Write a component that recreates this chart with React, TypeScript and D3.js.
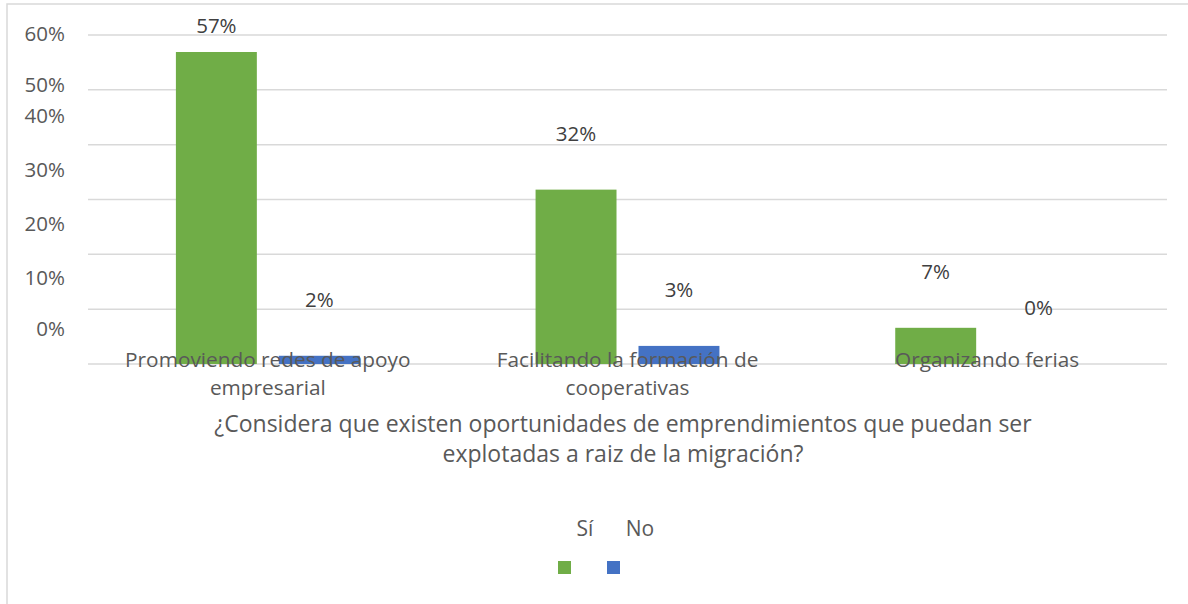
import React from "react";
import * as d3 from "d3";

const categories = [
  ["Promoviendo redes de apoyo", "empresarial"],
  ["Facilitando la formación de", "cooperativas"],
  ["Organizando ferias"],
];
const seriesNames = ["Sí", "No"];
const siValues = [0.569, 0.318, 0.066];
const noValues = [0.015, 0.033, 0.0];
const tickValues = [0, 0.1, 0.2, 0.3, 0.4, 0.5, 0.6];
const titleLines = [
  "¿Considera que existen oportunidades de emprendimientos que puedan ser",
  "explotadas a raiz de la migración?",
];

const colors = ["#70AD47", "#4472C4"];
// vertical offsets of the tick labels relative to their gridline (as in the original rendering)
const tickDy = [-36, -32, -31, -31, -30, -6, -2];

const W = 1188;
const H = 604;
const FONT = "'Open Sans', 'Liberation Sans', sans-serif";

export default function App() {
  const catKeys = categories.map((c) => c.join(" "));
  const x0 = d3.scaleBand<string>().domain(catKeys).range([88, 1167]).padding(0);
  const x1 = d3
    .scaleBand<string>()
    .domain(seriesNames)
    .range([0, x0.bandwidth()])
    .paddingInner(0.2136)
    .paddingOuter(0.854);
  const y = d3.scaleLinear().domain([0, 0.6]).range([364, 35]);
  const fmt = d3.format(".0%");
  const series = [siValues, noValues];

  return (
    <svg
      width={W}
      height={H}
      style={{ position: "absolute", left: 0, top: 0, background: "#fff" }}
      fontFamily={FONT}
    >
      <rect x={7} y={4} width={W + 20} height={H + 20} fill="#fff" stroke="#D9D9D9" strokeWidth={1.5} />
      {tickValues.map((t) => (
        <line key={"g" + t} x1={88} x2={1167} y1={y(t)} y2={y(t)} stroke="#D9D9D9" strokeWidth={1.5} />
      ))}
      {tickValues.map((t, i) => (
        <text
          key={"t" + t}
          x={65}
          y={y(t) + tickDy[i]}
          textAnchor="end"
          dominantBaseline="central"
          fontSize={20.5}
          fill="#595959"
        >
          {fmt(t)}
        </text>
      ))}
      {series.map((vals, si) =>
        vals.map((v, ci) => (
          <rect
            key={"b" + si + ci}
            x={(x0(catKeys[ci]) as number) + (x1(seriesNames[si]) as number)}
            y={y(v)}
            width={x1.bandwidth()}
            height={y(0) - y(v)}
            fill={colors[si]}
          />
        ))
      )}
      {series.map((vals, si) =>
        vals.map((v, ci) => (
          <text
            key={"l" + si + ci}
            x={(x0(catKeys[ci]) as number) + (x1(seriesNames[si]) as number) + x1.bandwidth() / 2}
            y={Math.max(y(v) - 57, 25)}
            textAnchor="middle"
            dominantBaseline="central"
            fontSize={20.5}
            fill="#404040"
          >
            {fmt(Math.round(v * 100) / 100)}
          </text>
        ))
      )}
      {categories.map((lines, ci) =>
        lines.map((ln, li) => (
          <text
            key={"c" + ci + li}
            x={(x0(catKeys[ci]) as number) + x0.bandwidth() / 2}
            y={367 + li * 28}
            textAnchor="middle"
            fontSize={20.8}
            fill="#595959"
          >
            {ln}
          </text>
        ))
      )}
      {titleLines.map((ln, i) => (
        <text key={"ti" + i} x={623} y={432 + i * 30} textAnchor="middle" fontSize={23} fill="#595959">
          {ln}
        </text>
      ))}
      {seriesNames.map((s, i) => (
        <g key={"lg" + s}>
          <text x={585 + i * 55} y={528} textAnchor="middle" dominantBaseline="central" fontSize={21} fill="#595959">
            {s}
          </text>
          <rect x={558 + i * 49} y={561} width={13} height={13} fill={colors[i]} />
        </g>
      ))}
    </svg>
  );
}
